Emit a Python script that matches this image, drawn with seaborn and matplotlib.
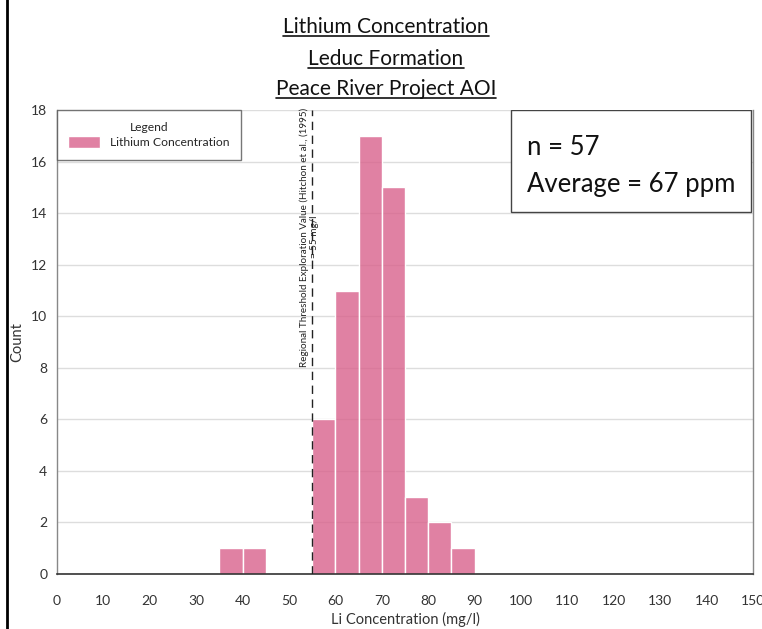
import matplotlib
matplotlib.use('Agg')
import matplotlib.pyplot as plt
import matplotlib.patches as mpatches
from matplotlib.lines import Line2D
from matplotlib.ticker import MultipleLocator
import seaborn as sns

# data: Li concentration histogram, 5 mg/l bins
bin_edges = [35, 40, 45, 50, 55, 60, 65, 70, 75, 80, 85, 90]
counts = [1, 1, 0, 0, 6, 11, 17, 15, 3, 2, 1]
threshold = 55
title_lines = ['Lithium Concentration', 'Leduc Formation', 'Peace River Project AOI']
stats_lines = ['n = 57', 'Average = 67 ppm']

sns.set_style('white')
plt.rcParams['font.family'] = ['Lato', 'DejaVu Sans']

fig = plt.figure(figsize=(7.62, 6.29), dpi=100)
ax = fig.add_axes([0.0748, 0.0874, 0.9134, 0.7376])

centers = [(a + b) / 2 for a, b in zip(bin_edges[:-1], bin_edges[1:])]
sns.histplot(x=centers, weights=counts, bins=bin_edges, color='#D9628C', alpha=0.8,
             edgecolor='white', linewidth=1, ax=ax, label='Lithium Concentration', zorder=2)

ax.set_xlim(0, 150)
ax.set_ylim(0, 18)
ax.xaxis.set_major_locator(MultipleLocator(10))
ax.xaxis.set_minor_locator(MultipleLocator(5))
ax.yaxis.set_major_locator(MultipleLocator(2))
ax.yaxis.set_minor_locator(MultipleLocator(1))
ax.tick_params(axis='both', which='major', direction='out', length=5, width=1,
               color='#444444', labelsize=10, labelcolor='#333333', pad=10)
ax.tick_params(axis='both', which='minor', direction='out', length=3, width=1, color='#666666')
ax.tick_params(axis='y', which='major', length=3, pad=4)
ax.grid(True, axis='y', color='#dddddd', linewidth=1, zorder=0)
ax.set_axisbelow(True)
for s in ['left', 'right']:
    ax.spines[s].set_color('#888888')
    ax.spines[s].set_linewidth(1)
ax.spines['top'].set_visible(False)
ax.spines['bottom'].set_color('#333333')
ax.spines['bottom'].set_linewidth(1.2)

ax.set_xlabel('Li Concentration (mg/l)', fontsize=10.5, color='#333333', labelpad=4)
ax.set_ylabel('Count', fontsize=10.5, color='#333333', labelpad=5)

# threshold line + label
ax.axvline(threshold, color='#222222', linewidth=1, linestyle=(0, (6, 4)), zorder=3)
ax.text(threshold - 0.7, 18.1, 'Regional Threshold Exploration Value (Hitchon et al., (1995)\n= 55 mg/l',
        rotation=90, ha='center', va='top', multialignment='center', fontsize=7.1,
        color='#222222', zorder=4)

# legend
leg = ax.legend(loc='upper left', bbox_to_anchor=(0, 1), borderaxespad=0, title='Legend',
                fontsize=8.7, title_fontsize=8.7, frameon=True, fancybox=False,
                handlelength=2.6, handleheight=1.1, borderpad=0.95, labelspacing=0.3)
leg.get_frame().set_edgecolor('#555555')
leg.get_frame().set_linewidth(1)

# stats box
ax.add_patch(mpatches.Rectangle((0.652, 0.78), 0.345, 0.22, transform=ax.transAxes,
                                facecolor='white', edgecolor='#444444', linewidth=1, zorder=5))
ax.text(0.675, 0.903, stats_lines[0], transform=ax.transAxes, fontsize=18.5,
        va='baseline', ha='left', color='#111111', zorder=6)
ax.text(0.675, 0.823, stats_lines[1], transform=ax.transAxes, fontsize=18.5,
        va='baseline', ha='left', color='#111111', zorder=6)

# title with underlines
title_base = [33, 65, 95]
title_texts = []
for line, yb in zip(title_lines, title_base):
    t = fig.text(386 / 762, 1 - yb / 629, line, ha='center', va='baseline', fontsize=15,
                 color='#111111')
    title_texts.append((t, yb))

# outer frame
fig.add_artist(mpatches.Rectangle((7 / 762, -0.2), 1.2, 1.2 + 1 - 7 / 629, transform=fig.transFigure,
                                  fill=False, edgecolor='black', linewidth=2))

fig.canvas.draw()
renderer = fig.canvas.get_renderer()
for t, yb in title_texts:
    bb = t.get_window_extent(renderer)
    y = 1 - (yb + 3) / 629
    fig.add_artist(Line2D([bb.x0 / 762, bb.x1 / 762], [y, y], transform=fig.transFigure,
                          color='#111111', linewidth=1.2))

fig.savefig('out.png', dpi=100)
